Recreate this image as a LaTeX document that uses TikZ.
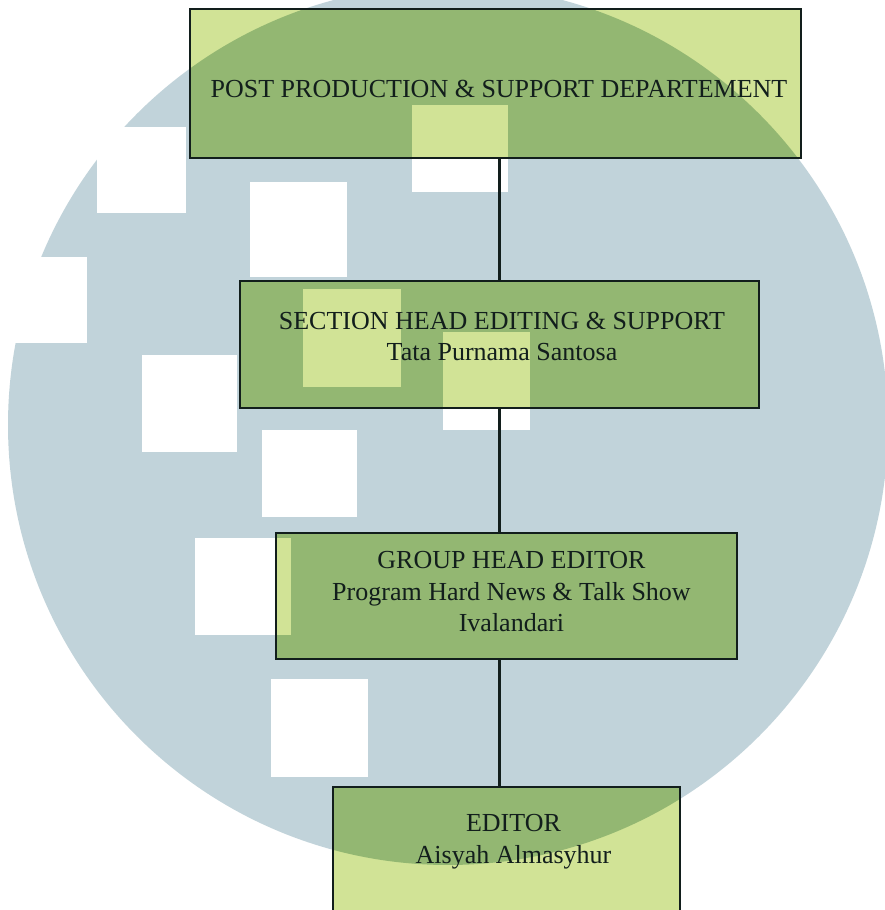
\documentclass[tikz,border=0pt]{standalone}
\usepackage{fontspec}
\setmainfont{Liberation Serif}
\usepackage{xcolor}

\definecolor{logoBlue}{RGB}{193,211,218}
\definecolor{boxDark}{RGB}{147,183,114}
\definecolor{boxLight}{RGB}{209,227,150}
\definecolor{inkDark}{RGB}{18,30,28}

% watermark: ring with the white squares
\newcommand{\drawLogo}[2]{%
    \fill[#1] (\ringX,\ringY) circle (\ringR);
    \foreach \sqL/\sqB/\sqR/\sqT in {412/718/508/805, 250/633/347/728, 97/697/186/783, -10/567/87/653, 142/458/237/555, 262/393/357/480, 195/275/291/372, 271/133/368/231, 303/523/401/621, 443/480/530/578}
        {\fill[#2] (\sqL,\sqB) rectangle (\sqR,\sqT);}
}

\begin{document}
\begin{tikzpicture}[x=1pt, y=1pt,
    orgBox/.style={draw=inkDark, line width=1.5pt, inner sep=0pt, outer sep=0pt},
    orgText/.style={text=inkDark, align=center, inner sep=0pt, font=\fontsize{26}{31.5}\selectfont},
    spineLine/.style={draw=inkDark, line width=3.5pt}]

    \def\ringX{448}; % centre of the ring
    \def\ringY{485};
    \def\ringR{440};

    \useasboundingbox (0,0) rectangle (885,910);
    \fill[white] (0,0) rectangle (885,910);
    \drawLogo{logoBlue}{white}

    %%% box fills, the watermark shows through %%%
    \foreach \xa/\ya/\xb/\yb in {190/752/801/901, 240/502/759/629, 276/251/737/377, 333/-4/680/123}
    {
        \begin{scope}
            \clip (\xa,\ya) rectangle (\xb,\yb);
            \fill[boxLight] (\xa,\ya) rectangle (\xb,\yb);
            \drawLogo{boxDark}{boxLight}
        \end{scope}
    }

    %%% boxes %%%
    \node[orgBox, minimum width=611pt, minimum height=149pt] (dept) at (495.5,826.5) {};
    \node[orgBox, minimum width=519pt, minimum height=127pt] (sec) at (499.5,565.5) {};
    \node[orgBox, minimum width=461pt, minimum height=126pt] (grp) at (506.5,314) {};
    \node[orgBox, minimum width=347pt, minimum height=127pt] (ed) at (506.5,59.5) {};

    % texts
    \node[orgText] (deptText) at ([xshift=3.5pt, yshift=-5pt]dept.center) {POST PRODUCTION \& SUPPORT DEPARTEMENT};
    \node[orgText] (secText) at ([xshift=2.5pt, yshift=8pt]sec.center) {SECTION HEAD EDITING \& SUPPORT\\Tata Purnama Santosa};
    \node[orgText] (grpText) at ([xshift=5pt, yshift=4pt]grp.center) {GROUP HEAD EDITOR\\Program Hard News \& Talk Show\\Ivalandari};
    \node[orgText] (edText) at ([xshift=7pt, yshift=9pt]ed.center) {EDITOR\\Aisyah Almasyhur};

    %%% connectors %%%
    \draw[spineLine] (sec.north |- dept.south) -- (sec.north);
    \draw[spineLine] (sec.south) -- (sec.south |- grp.north);
    \draw[spineLine] (sec.south |- grp.south) -- (sec.south |- ed.north);
\end{tikzpicture}
\end{document}
